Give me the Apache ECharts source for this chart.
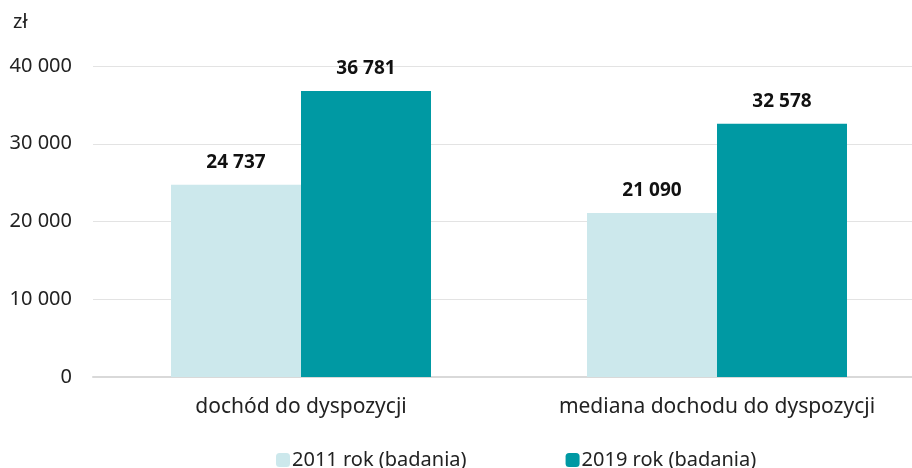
<!DOCTYPE html>
<html>
<head>
<meta charset="utf-8">
<script src="https://cdn.jsdelivr.net/npm/echarts@6/dist/echarts.min.js"></script>
<style>
  html, body { margin: 0; padding: 0; background: #fff; }
  #chart { width: 912px; height: 468px; }
</style>
</head>
<body>
<div id="chart"></div>
<script>
const categories = ['dochód do dyspozycji', 'mediana dochodu do dyspozycji'];
const seriesNames = ['2011 rok (badania)', '2019 rok (badania)'];
const values2011 = [24737, 21090];
const values2019 = [36781, 32578];
const yTicks = [0, 10000, 20000, 30000, 40000];

const fmt = v => String(v).replace(/\B(?=(\d{3})+(?!\d))/g, ' ');
const font = '"Noto Sans", sans-serif';

const chart = echarts.init(document.getElementById('chart'));

const barLabel = {
  show: true,
  position: 'top',
  distance: 13,
  fontFamily: font,
  fontSize: 19,
  fontWeight: 'bold',
  color: '#111',
  formatter: p => fmt(p.value)
};

chart.setOption({
  animation: false,
  textStyle: { fontFamily: font },
  title: {
    text: 'zł',
    left: 8,
    top: 7,
    textStyle: { fontFamily: font, fontSize: 20, fontWeight: 'normal', color: '#222' }
  },
  grid: { left: 93, top: 66, width: 832, height: 311, outerBoundsMode: 'none' },
  legend: {
    top: 445,
    left: 271,
    itemGap: 99,
    itemWidth: 14,
    itemHeight: 14,
    textStyle: { fontFamily: font, fontSize: 20, color: '#222', padding: [0, 0, 0, -3] },
    data: seriesNames
  },
  xAxis: {
    type: 'category',
    data: categories,
    axisTick: { show: false },
    axisLine: { lineStyle: { color: '#d9d9d9', width: 2 } },
    axisLabel: { fontFamily: font, fontSize: 21, color: '#222', margin: 20 }
  },
  yAxis: {
    type: 'value',
    min: yTicks[0],
    max: yTicks[yTicks.length - 1],
    interval: 10000,
    axisLine: { show: false },
    axisTick: { show: false },
    splitLine: { lineStyle: { color: '#e3e3e3', width: 1 } },
    axisLabel: { fontFamily: font, fontSize: 20, color: '#222', margin: 21, formatter: v => fmt(v) }
  },
  series: [
    {
      name: seriesNames[0],
      type: 'bar',
      data: values2011,
      barWidth: 130,
      barGap: '0%',
      itemStyle: { color: '#cce8ec' },
      label: barLabel
    },
    {
      name: seriesNames[1],
      type: 'bar',
      data: values2019,
      barWidth: 130,
      barGap: '0%',
      itemStyle: { color: '#0099a3' },
      label: barLabel
    }
  ]
});
</script>
</body>
</html>
